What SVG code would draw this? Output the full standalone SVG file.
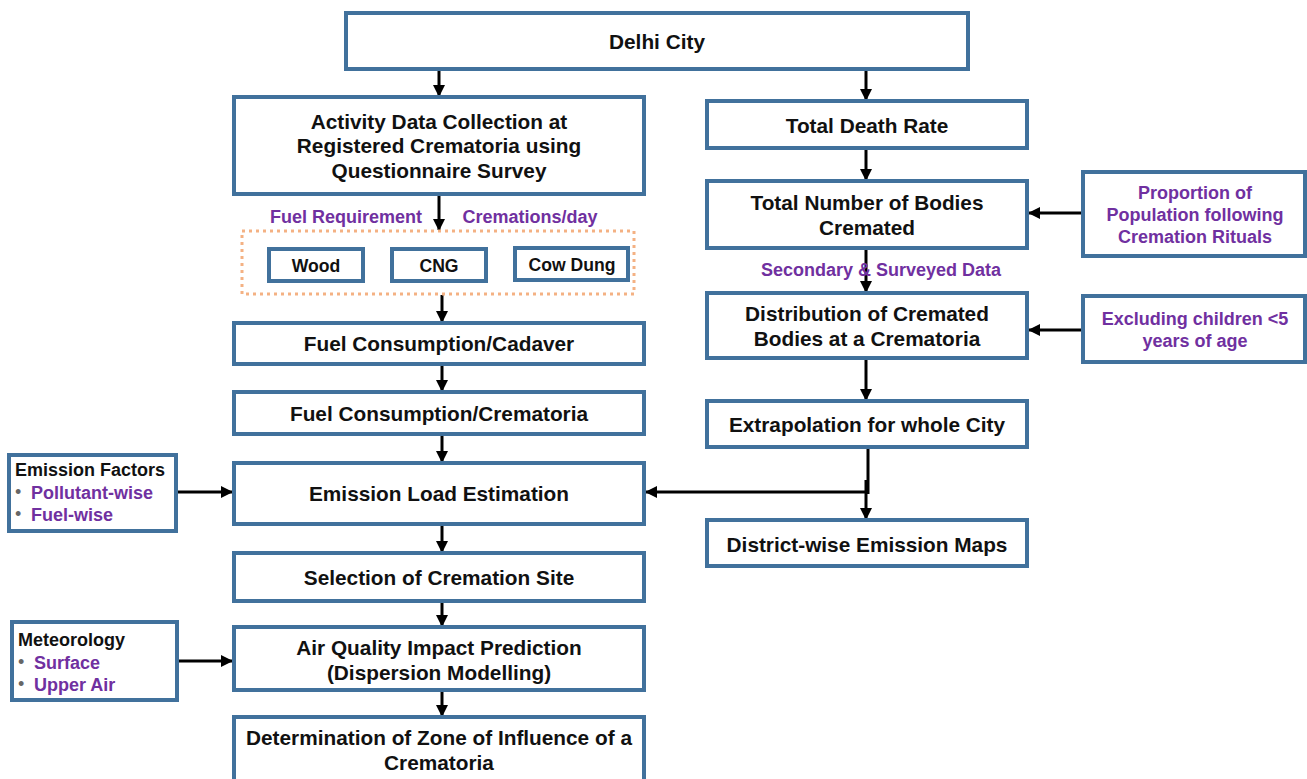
<svg xmlns="http://www.w3.org/2000/svg" width="1307" height="779" viewBox="0 0 1307 779">
<defs>
<style>
.b{fill:#fff;stroke:#41719C;stroke-width:4}
.t{font-family:"Liberation Sans",Arial,sans-serif;font-weight:bold;font-size:20.8px;fill:#111;text-anchor:middle}
.s{font-size:18px}
.f{font-size:17.6px}
.p{fill:#7030A0}
.l{text-anchor:start}
.g{fill:#666;font-weight:normal}
.c{stroke:#000;stroke-width:3;fill:none}
</style>
<marker id="ah" markerWidth="12" markerHeight="12" refX="11" refY="6" orient="auto" markerUnits="userSpaceOnUse" viewBox="0 0 12 12">
<path d="M0,0 L12,6 L0,12 z" fill="#000"/>
</marker>
</defs>
<rect width="1307" height="779" fill="#fff"/>
<g id="connectors">
<line class="c" x1="439" y1="70" x2="439" y2="96" marker-end="url(#ah)"/>
<line class="c" x1="866" y1="70" x2="866" y2="100" marker-end="url(#ah)"/>
<line class="c" x1="439" y1="196" x2="439" y2="230" marker-end="url(#ah)"/>
<line class="c" x1="442" y1="295" x2="442" y2="322" marker-end="url(#ah)"/>
<line class="c" x1="442" y1="366" x2="442" y2="391" marker-end="url(#ah)"/>
<line class="c" x1="442" y1="436" x2="442" y2="462" marker-end="url(#ah)"/>
<line class="c" x1="442" y1="526" x2="442" y2="552" marker-end="url(#ah)"/>
<line class="c" x1="442" y1="603" x2="442" y2="626" marker-end="url(#ah)"/>
<line class="c" x1="442" y1="692" x2="442" y2="716" marker-end="url(#ah)"/>
<line class="c" x1="866" y1="150" x2="866" y2="180" marker-end="url(#ah)"/>
<line class="c" x1="866" y1="250" x2="866" y2="292" marker-end="url(#ah)"/>
<line class="c" x1="866" y1="360" x2="866" y2="400" marker-end="url(#ah)"/>
<line class="c" x1="868" y1="449" x2="868" y2="494"/>
<line class="c" x1="866" y1="480" x2="866" y2="519" marker-end="url(#ah)"/>
<line class="c" x1="868" y1="492" x2="646" y2="492" marker-end="url(#ah)"/>
<line class="c" x1="1083" y1="213" x2="1029" y2="213" marker-end="url(#ah)"/>
<line class="c" x1="1083" y1="330" x2="1029" y2="330" marker-end="url(#ah)"/>
<line class="c" x1="176" y1="492" x2="232" y2="492" marker-end="url(#ah)"/>
<line class="c" x1="177" y1="661" x2="232" y2="661" marker-end="url(#ah)"/>
</g>
<g id="delhi"><rect class="b" x="346" y="13" width="622" height="56"/><text class="t" x="657" y="49" font-size="24">Delhi City</text></g>
<g id="activity"><rect class="b" x="234" y="97" width="410" height="97"/>
<text class="t" x="439" y="129">Activity Data Collection at</text>
<text class="t" x="439" y="153">Registered Crematoria using</text>
<text class="t" x="439" y="178">Questionnaire Survey</text></g>
<g id="labels-fuel">
<text class="t s p" x="346" y="223">Fuel Requirement</text>
<text class="t s p" x="530" y="223">Cremations/day</text>
</g>
<g id="fuel-group"><rect x="242" y="231" width="392" height="63" fill="none" stroke="#F4B183" stroke-width="3" stroke-dasharray="3 4"/></g>
<g id="wood"><rect class="b" x="269" y="249" width="94" height="32"/><text class="t f" x="316" y="272">Wood</text></g>
<g id="cng"><rect class="b" x="392" y="249" width="94" height="32"/><text class="t f" x="439" y="272">CNG</text></g>
<g id="cowdung"><rect class="b" x="515" y="248" width="113" height="32"/><text class="t f" x="572" y="271">Cow Dung</text></g>
<g id="cadaver"><rect class="b" x="234" y="323" width="410" height="41"/><text class="t" x="439" y="351">Fuel Consumption/Cadaver</text></g>
<g id="crematoria"><rect class="b" x="234" y="392" width="410" height="42"/><text class="t" x="439" y="421">Fuel Consumption/Crematoria</text></g>
<g id="emission"><rect class="b" x="234" y="463" width="410" height="61"/><text class="t" x="439" y="501">Emission Load Estimation</text></g>
<g id="selection"><rect class="b" x="234" y="553" width="410" height="48"/><text class="t" x="439" y="585">Selection of Cremation Site</text></g>
<g id="airquality"><rect class="b" x="234" y="627" width="410" height="63"/>
<text class="t" x="439" y="655">Air Quality Impact Prediction</text>
<text class="t" x="439" y="680">(Dispersion Modelling)</text></g>
<g id="determination"><rect class="b" x="234" y="717" width="410" height="66"/>
<text class="t" x="439" y="745">Determination of Zone of Influence of a</text>
<text class="t" x="439" y="770">Crematoria</text></g>
<g id="deathrate"><rect class="b" x="707" y="101" width="320" height="47"/><text class="t" x="867" y="133">Total Death Rate</text></g>
<g id="bodies"><rect class="b" x="707" y="181" width="320" height="67"/>
<text class="t" x="867" y="210">Total Number of Bodies</text>
<text class="t" x="867" y="235">Cremated</text></g>
<g id="label-secondary"><text class="t s p" x="881" y="276">Secondary &amp; Surveyed Data</text></g>
<g id="distribution"><rect class="b" x="707" y="293" width="320" height="65"/>
<text class="t" x="867" y="321">Distribution of Cremated</text>
<text class="t" x="867" y="346">Bodies at a Crematoria</text></g>
<g id="extrapolation"><rect class="b" x="707" y="401" width="320" height="46"/><text class="t" x="867" y="432">Extrapolation for whole City</text></g>
<g id="district"><rect class="b" x="707" y="520" width="320" height="46"/><text class="t" x="867" y="552">District-wise Emission Maps</text></g>
<g id="proportion"><rect class="b" x="1083" y="172" width="222" height="84"/>
<text class="t s p" x="1195" y="199">Proportion of</text>
<text class="t s p" x="1195" y="221">Population following</text>
<text class="t s p" x="1195" y="243">Cremation Rituals</text></g>
<g id="excluding"><rect class="b" x="1083" y="296" width="222" height="66"/>
<text class="t s p" x="1195" y="325">Excluding children &lt;5</text>
<text class="t s p" x="1195" y="347">years of age</text></g>
<g id="emissionfactors"><rect class="b" x="9" y="455" width="167" height="76"/>
<text class="t s l" x="15" y="476">Emission Factors</text>
<text class="t s l g" x="15" y="498">•</text><text class="t s l p" x="31" y="499">Pollutant-wise</text>
<text class="t s l g" x="15" y="520">•</text><text class="t s l p" x="31" y="521">Fuel-wise</text></g>
<g id="meteorology"><rect class="b" x="12" y="622" width="165" height="78"/>
<text class="t s l" x="18" y="646">Meteorology</text>
<text class="t s l g" x="18" y="668">•</text><text class="t s l p" x="34" y="669">Surface</text>
<text class="t s l g" x="18" y="690">•</text><text class="t s l p" x="34" y="691">Upper Air</text></g>
</svg>
